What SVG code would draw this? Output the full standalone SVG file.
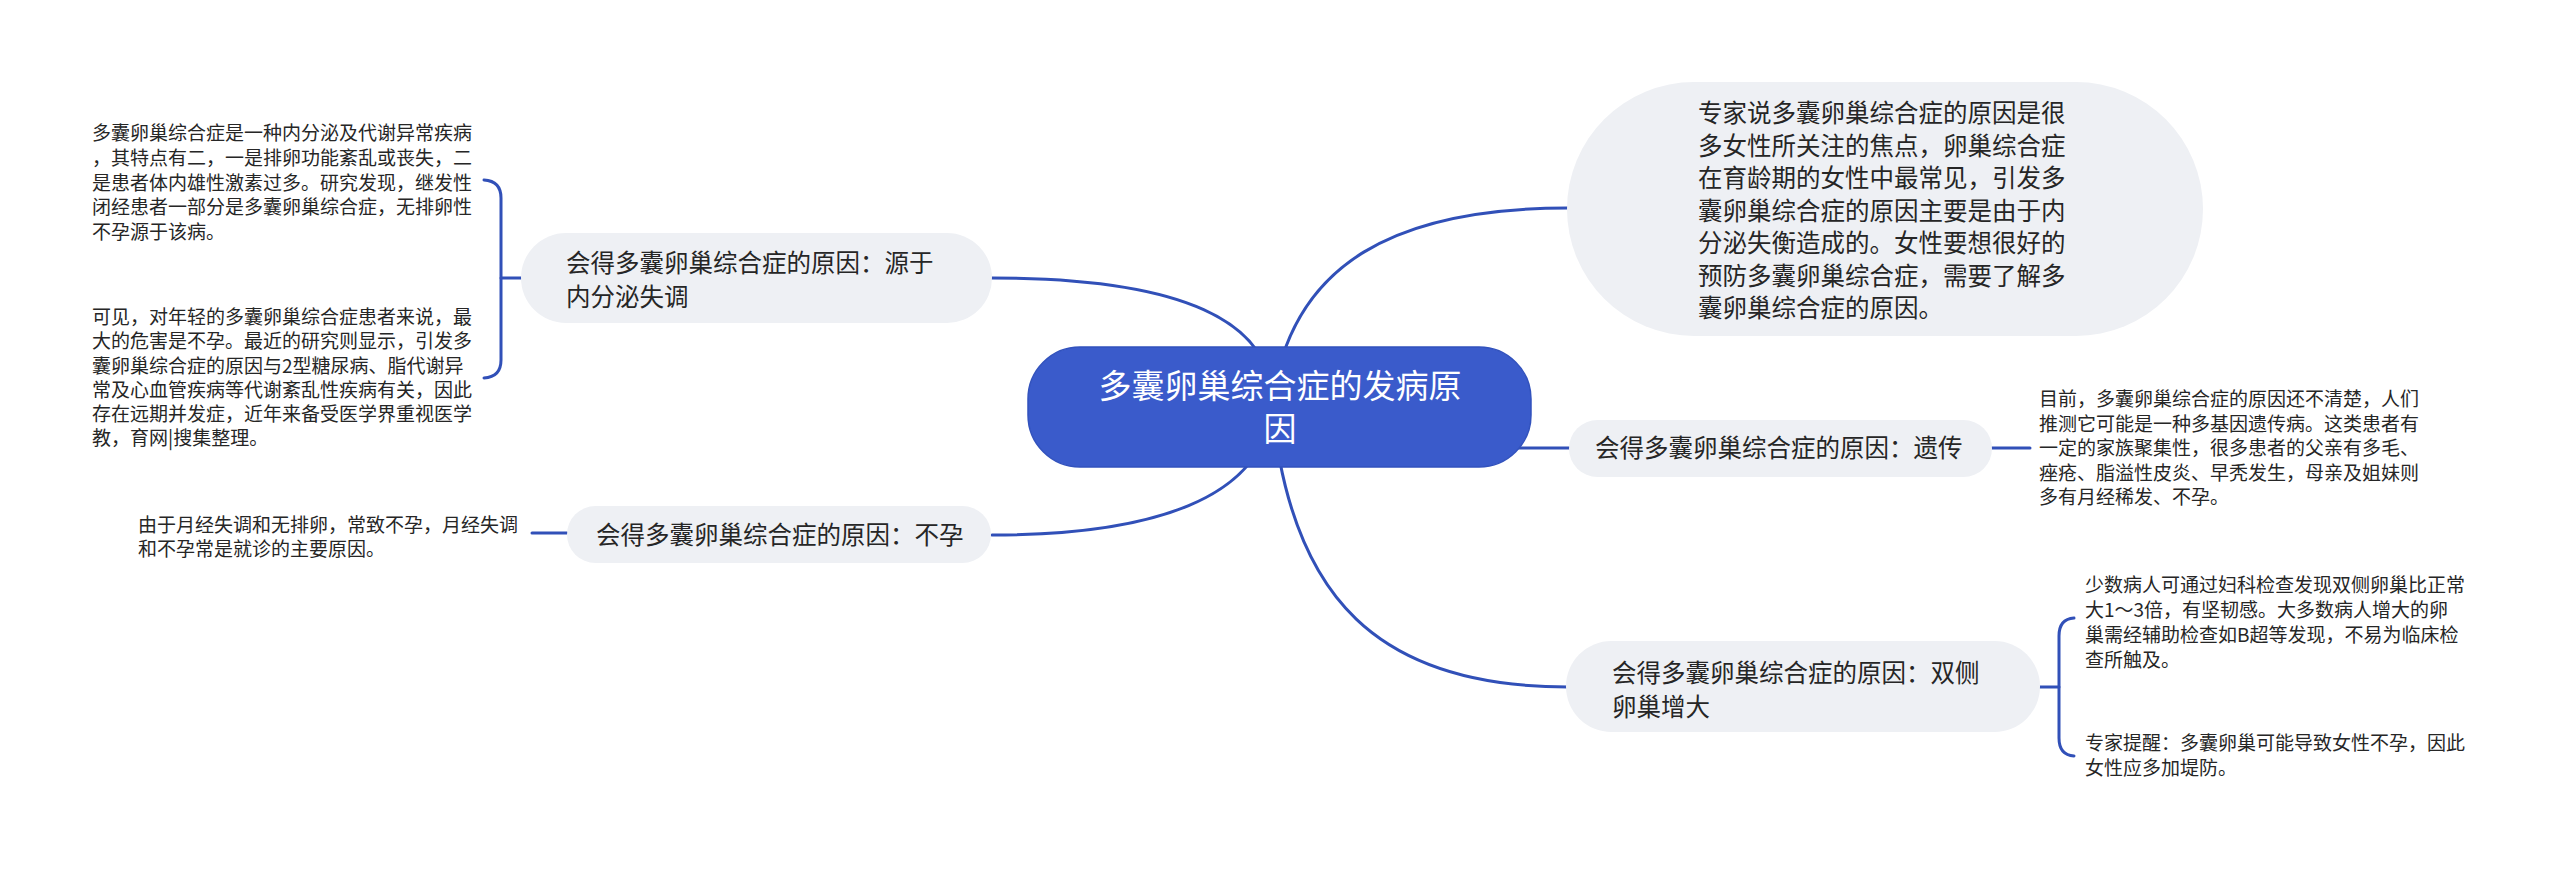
<svg xmlns="http://www.w3.org/2000/svg" width="2560" height="870" viewBox="0 0 2560 870">
<style>
.bg{fill:#ffffff}
.conn{fill:none;stroke:#3150b8;stroke-width:3;stroke-linecap:round}
.sub{fill:#eef0f4}
.root{fill:#3a5bcb;stroke:#3252bd;stroke-width:1.5}
.t{font-family:"Noto Sans CJK SC","Noto Sans",sans-serif;fill:#262626}
.tm{font-size:24.5px}
.ts{font-size:19px}
.tr{font-size:33px;fill:#ffffff}
</style>
<rect class="bg" x="0" y="0" width="2560" height="870"/>
<g id="connectors">
<path class="conn" d="M1272,405 C1290,260 1400,208 1568,208"/>
<path class="conn" d="M1272,405 C1275,320 1180,278 992,278"/>
<path class="conn" d="M1272,405 C1265,500 1150,535 992,535"/>
<path class="conn" d="M1272,448 L1569,448"/>
<path class="conn" d="M1272,405 C1290,600 1380,687 1568,687"/>
<path class="conn" d="M521,278 L501,278"/>
<path class="conn" d="M484,180 Q501,181 501,198 L501,360 Q501,377 484,378"/>
<path class="conn" d="M567,533 L532,533"/>
<path class="conn" d="M1992,448 L2030,448"/>
<path class="conn" d="M2040,687 L2059,687"/>
<path class="conn" d="M2074,618 Q2059,619 2059,636 L2059,738 Q2059,755 2074,756"/>
</g>
<g id="root">
<rect class="root" x="1028" y="347" width="503" height="120" rx="52"/>
<text class="t tr" text-anchor="middle"><tspan x="1280" y="397.5">多囊卵巢综合症的发病原</tspan><tspan x="1280" y="440.5">因</tspan></text>
</g>
<g id="node-intro">
<rect class="sub" x="1567" y="82" width="636" height="254" rx="127"/>
<text class="t tm"><tspan x="1698" y="122.3">专家说多囊卵巢综合症的原因是很</tspan><tspan x="1698" y="154.8">多女性所关注的焦点，卵巢综合症</tspan><tspan x="1698" y="187.3">在育龄期的女性中最常见，引发多</tspan><tspan x="1698" y="219.8">囊卵巢综合症的原因主要是由于内</tspan><tspan x="1698" y="252.3">分泌失衡造成的。女性要想很好的</tspan><tspan x="1698" y="284.8">预防多囊卵巢综合症，需要了解多</tspan><tspan x="1698" y="317.3">囊卵巢综合症的原因。</tspan></text>
</g>
<g id="node-endocrine">
<rect class="sub" x="521" y="233" width="471" height="90" rx="45"/>
<text class="t tm"><tspan x="566" y="272.3">会得多囊卵巢综合症的原因：源于</tspan><tspan x="566" y="306.3">内分泌失调</tspan></text>
</g>
<g id="note-endocrine-1">
<text class="t ts"><tspan x="92" y="140.2">多囊卵巢综合症是一种内分泌及代谢异常疾病</tspan><tspan x="92" y="164.9">，其特点有二，一是排卵功能紊乱或丧失，二</tspan><tspan x="92" y="189.6">是患者体内雄性激素过多。研究发现，继发性</tspan><tspan x="92" y="214.3">闭经患者一部分是多囊卵巢综合症，无排卵性</tspan><tspan x="92" y="239">不孕源于该病。</tspan></text>
</g>
<g id="note-endocrine-2">
<text class="t ts"><tspan x="92" y="324.2">可见，对年轻的多囊卵巢综合症患者来说，最</tspan><tspan x="92" y="348.4">大的危害是不孕。最近的研究则显示，引发多</tspan><tspan x="92" y="372.6">囊卵巢综合症的原因与2型糖尿病、脂代谢异</tspan><tspan x="92" y="396.8">常及心血管疾病等代谢紊乱性疾病有关，因此</tspan><tspan x="92" y="421">存在远期并发症，近年来备受医学界重视医学</tspan><tspan x="92" y="445.2">教，育网|搜集整理。</tspan></text>
</g>
<g id="node-infertility">
<rect class="sub" x="567" y="506" width="424" height="57" rx="28.5"/>
<text class="t tm" x="596" y="544.3">会得多囊卵巢综合症的原因：不孕</text>
</g>
<g id="note-infertility">
<text class="t ts"><tspan x="138" y="532.2">由于月经失调和无排卵，常致不孕，月经失调</tspan><tspan x="138" y="556.2">和不孕常是就诊的主要原因。</tspan></text>
</g>
<g id="node-genetic">
<rect class="sub" x="1569" y="420" width="423" height="57" rx="28.5"/>
<text class="t tm" x="1595" y="457.3">会得多囊卵巢综合症的原因：遗传</text>
</g>
<g id="note-genetic">
<text class="t ts"><tspan x="2039" y="406.2">目前，多囊卵巢综合症的原因还不清楚，人们</tspan><tspan x="2039" y="430.7">推测它可能是一种多基因遗传病。这类患者有</tspan><tspan x="2039" y="455.2">一定的家族聚集性，很多患者的父亲有多毛、</tspan><tspan x="2039" y="479.7">痤疮、脂溢性皮炎、早秃发生，母亲及姐妹则</tspan><tspan x="2039" y="504.2">多有月经稀发、不孕。</tspan></text>
</g>
<g id="node-ovary">
<rect class="sub" x="1566" y="641" width="474" height="91" rx="45.5"/>
<text class="t tm"><tspan x="1612" y="682.3">会得多囊卵巢综合症的原因：双侧</tspan><tspan x="1612" y="716.3">卵巢增大</tspan></text>
</g>
<g id="note-ovary-1">
<text class="t ts"><tspan x="2085" y="592.2">少数病人可通过妇科检查发现双侧卵巢比正常</tspan><tspan x="2085" y="617.2">大1～3倍，有坚韧感。大多数病人增大的卵</tspan><tspan x="2085" y="642.2">巢需经辅助检查如B超等发现，不易为临床检</tspan><tspan x="2085" y="667.2">查所触及。</tspan></text>
</g>
<g id="note-ovary-2">
<text class="t ts"><tspan x="2085" y="750.2">专家提醒：多囊卵巢可能导致女性不孕，因此</tspan><tspan x="2085" y="775.2">女性应多加堤防。</tspan></text>
</g>
</svg>
